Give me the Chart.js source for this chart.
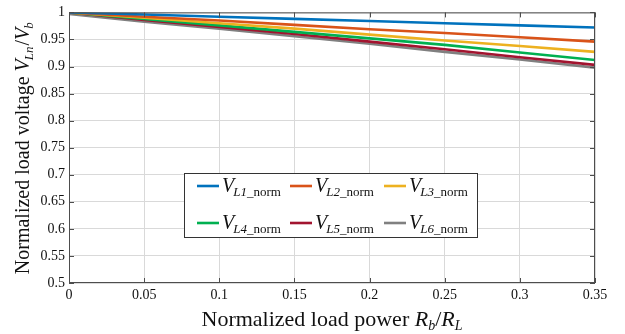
<!DOCTYPE html>
<html>
<head>
<meta charset="utf-8">
<script src="https://cdn.jsdelivr.net/npm/chart.js@4.4.0/dist/chart.umd.min.js"></script>
<style>
  html, body { margin: 0; padding: 0; background: #fff; }
  #wrap { width: 625px; height: 334px; }
</style>
</head>
<body>
<div id="wrap"><canvas id="myChart" width="625" height="334"></canvas></div>
<script>
// normalized load power Rb/RL
var power = [0, 0.05, 0.1, 0.15, 0.2, 0.25, 0.3, 0.35]

// normalized load voltage for each load
var vl1 = [1, 0.996, 0.992, 0.988, 0.984, 0.980, 0.976, 0.972]
var vl2 = [1, 0.992, 0.985, 0.977, 0.969, 0.962, 0.954, 0.946]
var vl3 = [1, 0.990, 0.980, 0.970, 0.959, 0.948, 0.938, 0.927]
var vl4 = [1, 0.988, 0.976, 0.964, 0.952, 0.940, 0.926, 0.912]
var vl5 = [1, 0.986, 0.973, 0.960, 0.946, 0.932, 0.917, 0.903]
var vl6 = [0.997, 0.983, 0.970, 0.956, 0.942, 0.927, 0.913, 0.898]

var names = ["L1", "L2", "L3", "L4", "L5", "L6"]
var colors = ["#0072BD", "#D95319", "#EDB120", "#00B050", "#A2142F", "#808080"]
var series = [vl1, vl2, vl3, vl4, vl5, vl6]

var serif = "'Liberation Serif', 'Times New Roman', serif"

function points(vals) {
    var out = []
    for (var i = 0; i < power.length; i++) {
        out.push({x: power[i], y: vals[i]})
    }
    return out
}

var datasets = []
for (var i = 0; i < series.length; i++) {
    datasets.push({
        label: "V" + names[i] + "_norm",
        data: points(series[i]),
        borderColor: colors[i],
        backgroundColor: colors[i],
        borderWidth: 2.6,
        pointRadius: 0,
        tension: 0
    })
}

function fmt(v) {
    return String(+v.toFixed(2))
}

// draws "V" + italic subscript, optionally followed by a plain piece
function drawV(ctx, x, y, vSize, sub, plain, subSize) {
    ctx.textBaseline = "alphabetic"
    ctx.textAlign = "left"
    ctx.font = "italic " + vSize + "px " + serif
    ctx.fillText("V", x, y)
    x += ctx.measureText("V").width - 1
    ctx.font = "italic " + subSize + "px " + serif
    ctx.fillText(sub, x, y + 4)
    x += ctx.measureText(sub).width
    if (plain) {
        ctx.font = subSize + "px " + serif
        ctx.fillText(plain, x, y + 4)
        x += ctx.measureText(plain).width
    }
    return x
}

var decor = {
    id: "decor",
    afterDraw: function(chart) {
        var ctx = chart.ctx
        var a = chart.chartArea
        var xs = chart.scales.x, ys = chart.scales.y
        ctx.save()

        // box and inward ticks on all four sides
        ctx.strokeStyle = "#4d4d4d"
        ctx.lineWidth = 1
        ctx.strokeRect(a.left + 0.5, a.top + 0.5, a.right - a.left - 1, a.bottom - a.top - 1)
        ctx.beginPath()
        xs.ticks.forEach(function(t) {
            var px = Math.round(xs.getPixelForValue(t.value)) + 0.5
            ctx.moveTo(px, a.bottom); ctx.lineTo(px, a.bottom - 5)
            ctx.moveTo(px, a.top); ctx.lineTo(px, a.top + 5)
        })
        ys.ticks.forEach(function(t) {
            var py = Math.round(ys.getPixelForValue(t.value)) + 0.5
            ctx.moveTo(a.left, py); ctx.lineTo(a.left + 5, py)
            ctx.moveTo(a.right, py); ctx.lineTo(a.right - 5, py)
        })
        ctx.stroke()

        ctx.fillStyle = "#111"

        // x axis title
        var t1 = "Normalized load power "
        ctx.font = "22px " + serif
        var w1 = ctx.measureText(t1).width
        ctx.font = "italic 22px " + serif
        var wR = ctx.measureText("R").width
        ctx.font = "italic 14px " + serif
        var wb = ctx.measureText("b").width
        var wL = ctx.measureText("L").width
        ctx.font = "22px " + serif
        var wS = ctx.measureText("/").width
        var total = w1 + wR * 2 + wb + wL + wS
        var x = (a.left + a.right) / 2 - total / 2
        var y = 326
        ctx.textAlign = "left"
        ctx.textBaseline = "alphabetic"
        ctx.fillText(t1, x, y); x += w1
        ctx.font = "italic 22px " + serif
        ctx.fillText("R", x, y); x += wR
        ctx.font = "italic 14px " + serif
        ctx.fillText("b", x, y + 4); x += wb
        ctx.font = "22px " + serif
        ctx.fillText("/", x, y); x += wS
        ctx.font = "italic 22px " + serif
        ctx.fillText("R", x, y); x += wR
        ctx.font = "italic 14px " + serif
        ctx.fillText("L", x, y + 4)

        // y axis title, rotated
        ctx.save()
        ctx.translate(29, (a.top + a.bottom) / 2)
        ctx.rotate(-Math.PI / 2)
        var t2 = "Normalized load voltage "
        ctx.font = "20px " + serif
        var w2 = ctx.measureText(t2).width
        ctx.font = "italic 20px " + serif
        var wV = ctx.measureText("V").width
        ctx.font = "italic 13px " + serif
        var wLn = ctx.measureText("Ln").width
        var wb2 = ctx.measureText("b").width
        ctx.font = "20px " + serif
        var wS2 = ctx.measureText("/").width
        var tot2 = w2 + wV * 2 + wLn + wb2 + wS2
        x = -tot2 / 2
        y = 0
        ctx.fillText(t2, x, y); x += w2
        ctx.font = "italic 20px " + serif
        ctx.fillText("V", x, y); x += wV - 1
        ctx.font = "italic 13px " + serif
        ctx.fillText("Ln", x, y + 4); x += wLn + 1
        ctx.font = "20px " + serif
        ctx.fillText("/", x, y); x += wS2
        ctx.font = "italic 20px " + serif
        ctx.fillText("V", x, y); x += wV - 1
        ctx.font = "italic 13px " + serif
        ctx.fillText("b", x, y + 4)
        ctx.restore()

        // legend box
        var bx = 184, by = 173, bw = 293, bh = 64
        ctx.fillStyle = "#fff"
        ctx.fillRect(bx, by, bw, bh)
        ctx.strokeStyle = "#333"
        ctx.strokeRect(bx + 0.5, by + 0.5, bw, bh)
        var cols = [197, 290, 384]
        var rows = [192, 229]
        for (var i = 0; i < datasets.length; i++) {
            var cx = cols[i % 3], cy = rows[Math.floor(i / 3)]
            ctx.strokeStyle = colors[i]
            ctx.lineWidth = 2.6
            ctx.beginPath()
            ctx.moveTo(cx, cy - 6); ctx.lineTo(cx + 22, cy - 6)
            ctx.stroke()
            ctx.fillStyle = "#111"
            drawV(ctx, cx + 25, cy, 20, names[i], "_norm", 13)
        }
        ctx.restore()
    }
}

var chart = new Chart(document.getElementById("myChart").getContext("2d"), {
    type: "line",
    data: {datasets: datasets},
    options: {
        responsive: false,
        animation: false,
        layout: {padding: {top: 9, right: 30, left: 0, bottom: 0}},
        plugins: {legend: {display: false}, tooltip: {enabled: false}},
        scales: {
            x: {
                type: "linear",
                min: 0,
                max: 0.35,
                ticks: {
                    stepSize: 0.05,
                    color: "#111",
                    font: {family: serif, size: 14},
                    padding: 4,
                    maxRotation: 0,
                    callback: function(v) { return fmt(v) }
                },
                grid: {color: "#d9d9d9", drawTicks: false},
                border: {display: false},
                afterFit: function(s) { s.height = 51 }
            },
            y: {
                min: 0.5,
                max: 1,
                ticks: {
                    stepSize: 0.05,
                    color: "#111",
                    font: {family: serif, size: 14},
                    padding: 4,
                    callback: function(v) { return fmt(v) }
                },
                grid: {color: "#d9d9d9", drawTicks: false},
                border: {display: false},
                afterFit: function(s) { s.width = 69 }
            }
        }
    },
    plugins: [decor]
})
</script>
</body>
</html>
